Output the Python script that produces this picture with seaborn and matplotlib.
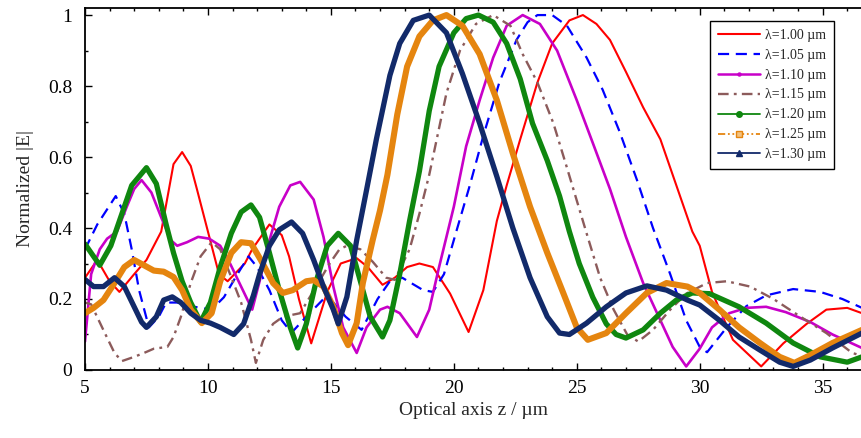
import numpy as np
import pandas as pd
import matplotlib
matplotlib.use("Agg")
import matplotlib.pyplot as plt
import seaborn as sns
from matplotlib.lines import Line2D
from matplotlib.ticker import MultipleLocator, FixedLocator, FixedFormatter

sns.set_style("ticks")
plt.rcParams['font.family'] = ['Liberation Serif', 'DejaVu Serif']

# ---------------- data ----------------
labels = ["λ=1.00 µm", "λ=1.05 µm", "λ=1.10 µm", "λ=1.15 µm",
          "λ=1.20 µm", "λ=1.25 µm", "λ=1.30 µm"]

z_100 = [5.0, 5.5, 6.0, 6.4, 7.0, 7.5, 8.1, 8.6, 8.95, 9.3, 9.55, 10.0, 10.45, 10.8, 11.5, 11.8,
         12.5, 13.0, 13.3, 13.7, 14.2, 14.85, 15.4, 16.05, 16.5, 17.1, 17.6, 18.1, 18.6, 19.15,
         19.85, 20.6, 21.2, 21.75, 22.15, 22.7, 23.4, 24.0, 24.7, 25.25, 25.8, 26.35, 27.0,
         27.7, 28.4, 29.05, 29.7, 30.0, 30.5, 31.35, 32.5, 33.4, 34.35, 35.15, 36.0, 36.6]
v_100 = [0.26, 0.31, 0.25, 0.22, 0.27, 0.31, 0.39, 0.58, 0.614, 0.575, 0.51, 0.39, 0.27, 0.25, 0.30, 0.34,
         0.41, 0.38, 0.32, 0.20, 0.075, 0.22, 0.30, 0.315, 0.29, 0.24, 0.26, 0.29, 0.30, 0.29,
         0.215, 0.107, 0.225, 0.42, 0.52, 0.65, 0.81, 0.92, 0.985, 1.0, 0.975, 0.93, 0.84,
         0.74, 0.65, 0.52, 0.39, 0.35, 0.22, 0.085, 0.01, 0.075, 0.13, 0.17, 0.175, 0.16]

z_105 = [5.0, 5.5, 6.25, 6.6, 6.9, 7.2, 7.6, 8.0, 8.3, 8.75, 9.3, 9.7, 10.15, 10.65, 11.2, 11.65,
         12.0, 12.5, 13.0, 13.4, 14.0, 14.7, 15.1, 15.6, 16.25, 16.9, 17.4, 17.9, 18.75, 19.15,
         19.6, 20.1, 20.65, 21.2, 21.85, 22.55, 23.0, 23.4, 24.0, 24.6, 25.4, 26.05, 26.75,
         27.45, 28.1, 28.8, 29.45, 30.0, 30.3, 31.1, 31.9, 32.7, 33.8, 34.9, 35.8, 36.6]
v_105 = [0.34, 0.41, 0.49, 0.44, 0.34, 0.225, 0.12, 0.15, 0.19, 0.19, 0.18, 0.175, 0.17, 0.205, 0.27, 0.32,
         0.29, 0.225, 0.14, 0.105, 0.15, 0.20, 0.19, 0.15, 0.113, 0.20, 0.25, 0.26, 0.225, 0.22,
         0.27, 0.39, 0.52, 0.66, 0.81, 0.93, 0.98, 1.0, 1.0, 0.97, 0.88, 0.79, 0.67,
         0.535, 0.40, 0.27, 0.14, 0.065, 0.05, 0.12, 0.18, 0.21, 0.228, 0.22, 0.20, 0.175]

z_110 = [5.0, 5.25, 5.6, 5.9, 6.3, 6.7, 7.0, 7.3, 7.7, 8.1, 8.5, 8.75, 9.15, 9.6, 10.05, 10.5,
         10.9, 11.35, 11.8, 12.1, 12.5, 12.9, 13.35, 13.75, 14.3, 14.7, 15.1, 15.5, 16.05, 16.45,
         17.0, 17.3, 17.8, 18.5, 19.0, 19.4, 20.0, 20.5, 21.05, 21.6, 22.15, 22.8, 23.5, 24.2,
         25.0, 25.65, 26.35, 27.0, 27.7, 28.4, 28.9, 29.45, 30.0, 30.5, 31.2, 31.9, 32.7, 33.5,
         34.5, 35.4, 36.6]
v_110 = [0.08, 0.27, 0.34, 0.37, 0.39, 0.46, 0.51, 0.535, 0.50, 0.43, 0.365, 0.35, 0.36, 0.375, 0.37, 0.35,
         0.30, 0.235, 0.17, 0.25, 0.365, 0.46, 0.52, 0.53, 0.48, 0.375, 0.235, 0.12, 0.048, 0.12,
         0.17, 0.178, 0.16, 0.093, 0.17, 0.29, 0.46, 0.63, 0.76, 0.88, 0.97, 1.0, 0.975, 0.90,
         0.76, 0.64, 0.51, 0.375, 0.245, 0.14, 0.065, 0.01, 0.06, 0.12, 0.16, 0.175, 0.178, 0.163,
         0.135, 0.10, 0.062]

z_115 = [5.0, 5.25, 5.8, 6.2, 6.5, 7.0, 7.4, 7.8, 8.35, 8.6, 8.9, 9.3, 9.7, 10.15, 10.5, 10.9,
         11.35, 11.75, 11.95, 12.25, 12.65, 13.05, 13.75, 14.4, 14.95, 15.35, 15.65, 16.2, 16.7,
         17.25, 17.6, 18.2, 18.6, 19.0, 19.7, 20.25, 20.9, 21.6, 22.3, 22.8, 23.4, 24.05, 24.6,
         25.4, 25.95, 26.5, 27.05, 27.5, 28.1, 28.8, 29.45, 30.3, 31.1, 32.05, 33.0, 34.1, 35.15,
         36.2, 36.6]
v_115 = [0.19, 0.185, 0.105, 0.048, 0.025, 0.037, 0.048, 0.06, 0.065, 0.093, 0.15, 0.245, 0.32, 0.36, 0.34, 0.27,
         0.19, 0.085, 0.02, 0.085, 0.13, 0.15, 0.16, 0.235, 0.30, 0.34, 0.35, 0.34, 0.305,
         0.26, 0.254, 0.34, 0.44, 0.55, 0.78, 0.90, 0.975, 1.0, 0.97, 0.89, 0.81, 0.695, 0.57,
         0.385, 0.26, 0.17, 0.10, 0.08, 0.113, 0.17, 0.215, 0.245, 0.25, 0.235, 0.20, 0.15, 0.104,
         0.048, 0.04]

z_120 = [5.0, 5.6, 6.05, 6.45, 6.9, 7.5, 7.9, 8.3, 8.6, 8.95, 9.3, 9.7, 10.1, 10.5, 10.95, 11.35,
         11.75, 12.1, 12.5, 12.9, 13.35, 13.65, 14.0, 14.4, 14.85, 15.3, 15.8, 16.2, 16.6, 17.1,
         17.4, 17.8, 18.2, 18.6, 19.0, 19.4, 20.0, 20.5, 21.0, 21.6, 22.15, 22.7, 23.2, 23.8,
         24.3, 24.7, 25.1, 25.65, 26.2, 26.6, 27.0, 27.7, 28.4, 29.05, 29.7, 30.4, 31.6, 32.7,
         33.8, 34.9, 36.0, 36.6]
v_120 = [0.355, 0.295, 0.35, 0.43, 0.52, 0.57, 0.525, 0.41, 0.33, 0.25, 0.19, 0.135, 0.19, 0.29, 0.385, 0.445,
         0.465, 0.43, 0.33, 0.225, 0.12, 0.062, 0.13, 0.25, 0.35, 0.385, 0.35, 0.25, 0.15, 0.093,
         0.14, 0.27, 0.42, 0.56, 0.73, 0.855, 0.95, 0.99, 1.0, 0.98, 0.92, 0.82, 0.695, 0.59,
         0.49, 0.39, 0.30, 0.205, 0.13, 0.10, 0.09, 0.113, 0.16, 0.197, 0.217, 0.215, 0.178, 0.132,
         0.076, 0.037, 0.022, 0.037]

z_125 = [5.0, 5.35, 5.75, 6.2, 6.6, 7.0, 7.4, 7.8, 8.2, 8.6, 8.95, 9.3, 9.75, 10.15, 10.5, 10.95,
         11.35, 11.75, 12.15, 12.65, 13.05, 13.45, 14.0, 14.3, 14.7, 15.1, 15.45, 15.7, 16.05,
         16.3, 16.7, 17.0, 17.3, 17.7, 18.1, 18.6, 19.15, 19.7, 20.35, 21.05, 21.75, 22.4, 23.1,
         23.8, 24.45, 25.0, 25.45, 26.2, 27.0, 27.85, 28.65, 29.5, 30.0, 30.8, 31.6, 32.45, 33.25,
         33.85, 34.5, 35.4, 36.6]
v_125 = [0.16, 0.175, 0.197, 0.245, 0.29, 0.31, 0.295, 0.28, 0.277, 0.262, 0.225, 0.17, 0.132, 0.16, 0.25, 0.33,
         0.36, 0.357, 0.31, 0.245, 0.217, 0.225, 0.25, 0.253, 0.235, 0.178, 0.104, 0.07, 0.132,
         0.245, 0.366, 0.45, 0.55, 0.72, 0.855, 0.94, 0.985, 1.0, 0.97, 0.89, 0.76, 0.61, 0.46,
         0.33, 0.217, 0.12, 0.085, 0.104, 0.16, 0.217, 0.245, 0.235, 0.217, 0.17, 0.12, 0.076, 0.037,
         0.02, 0.042, 0.076, 0.113]

z_130 = [5.0, 5.35, 5.75, 6.2, 6.6, 7.0, 7.3, 7.5, 7.9, 8.2, 8.55, 8.9, 9.3, 9.7, 10.1, 10.5,
         11.05, 11.45, 11.85, 12.1, 12.5, 12.9, 13.4, 13.85, 14.3, 14.7, 15.1, 15.3, 15.65, 16.05,
         16.45, 16.85, 17.4, 17.8, 18.35, 19.0, 19.7, 20.35, 21.05, 21.75, 22.4, 23.1, 23.8, 24.3,
         24.7, 25.4, 26.2, 27.0, 27.85, 28.65, 29.5, 30.0, 30.8, 31.6, 32.45, 33.25, 33.8, 34.5,
         35.4, 36.6]
v_130 = [0.255, 0.235, 0.235, 0.26, 0.235, 0.178, 0.135, 0.12, 0.15, 0.197, 0.206, 0.19, 0.16, 0.14, 0.132, 0.12,
         0.10, 0.13, 0.21, 0.27, 0.35, 0.395, 0.417, 0.385, 0.31, 0.235, 0.17, 0.13, 0.206, 0.366,
         0.507, 0.65, 0.83, 0.92, 0.985, 1.0, 0.95, 0.835, 0.695, 0.545, 0.40, 0.26, 0.15, 0.104,
         0.10, 0.132, 0.178, 0.217, 0.237, 0.225, 0.197, 0.183, 0.14, 0.093, 0.056, 0.022, 0.01, 0.028,
         0.062, 0.104]

x_ticks = [5, 10, 15, 20, 25, 30, 35]
y_ticks = [0, 0.2, 0.4, 0.6, 0.8, 1.0]
y_tick_labels = ["0", "0.2", "0.4", "0.6", "0.8", "1"]

# ---------------- styles ----------------
c_red, c_blue, c_mag, c_brown = "#ff0000", "#0000ff", "#c800c8", "#8c5b5b"
c_green, c_orange, c_navy = "#0f870f", "#e5850f", "#122a6a"

fig = plt.figure(figsize=(8.62, 4.38), dpi=100)
ax = fig.add_axes([0.0986, 0.1553, 0.9014, 0.8265])

def draw(z, v, **kw):
    df = pd.DataFrame({"z": z, "v": v})
    sns.lineplot(data=df, x="z", y="v", ax=ax, estimator=None, sort=False,
                 solid_joinstyle="round", solid_capstyle="round",
                 dash_joinstyle="round", **kw)

draw(z_100, v_100, color=c_red, linewidth=1.5)
draw(z_105, v_105, color=c_blue, linewidth=1.6, linestyle=(0, (5, 3)))
draw(z_110, v_110, color=c_mag, linewidth=1.9)
draw(z_115, v_115, color=c_brown, linewidth=1.7, linestyle=(0, (4.5, 2.2, 1.2, 2.2)))
draw(z_120, v_120, color=c_green, linewidth=3.8)
draw(z_125, v_125, color=c_orange, linewidth=4.4)
draw(z_130, v_130, color=c_navy, linewidth=3.8)

ax.set_xlim(5, 36.6)
ax.set_ylim(0, 1.02)
ax.xaxis.set_major_locator(FixedLocator(x_ticks))
ax.xaxis.set_minor_locator(MultipleLocator(1))
ax.yaxis.set_major_locator(FixedLocator(y_ticks))
ax.yaxis.set_major_formatter(FixedFormatter(y_tick_labels))
ax.yaxis.set_minor_locator(MultipleLocator(0.1))
ax.tick_params(which="both", direction="in", top=True, right=False, width=1.0,
               labelsize=14, colors="black")
ax.tick_params(which="major", length=5, pad=7)
ax.tick_params(which="minor", length=2.5)
ax.tick_params(axis="y", pad=9)
for s in ["left", "bottom", "top"]:
    ax.spines[s].set_linewidth(1.3)
    ax.spines[s].set_color("black")
ax.spines["right"].set_visible(False)

ax.set_xlabel("Optical axis z / µm", fontsize=14, labelpad=4)
ax.set_ylabel("Normalized |E|", fontsize=14, labelpad=10)

handles = [
    Line2D([], [], color=c_red, lw=1.5),
    Line2D([], [], color=c_blue, lw=1.6, ls=(0, (5, 3))),
    Line2D([], [], color=c_mag, lw=1.8, marker="o", ms=2.2, mec=c_mag),
    Line2D([], [], color=c_brown, lw=1.7, ls=(0, (4.5, 2.2, 1.2, 2.2))),
    Line2D([], [], color=c_green, lw=1.3, marker="o", ms=4, mec=c_green),
    Line2D([], [], color=c_orange, lw=1.3, ls=(0, (4, 1.5, 1, 1.5, 1, 1.5)), marker="s", ms=4,
           mfc="#f3c27f", mec=c_orange),
    Line2D([], [], color=c_navy, lw=1.3, marker="^", ms=4, mec=c_navy),
]
leg = ax.legend(handles, labels, loc="upper right", bbox_to_anchor=(0.964, 0.964),
                borderaxespad=0, frameon=True, fancybox=False, edgecolor="black",
                framealpha=1, fontsize=10, handlelength=3.0, labelspacing=0.5,
                borderpad=0.55, handletextpad=0.4)
leg.get_frame().set_linewidth(1.0)

fig.savefig("out.png", dpi=100)
